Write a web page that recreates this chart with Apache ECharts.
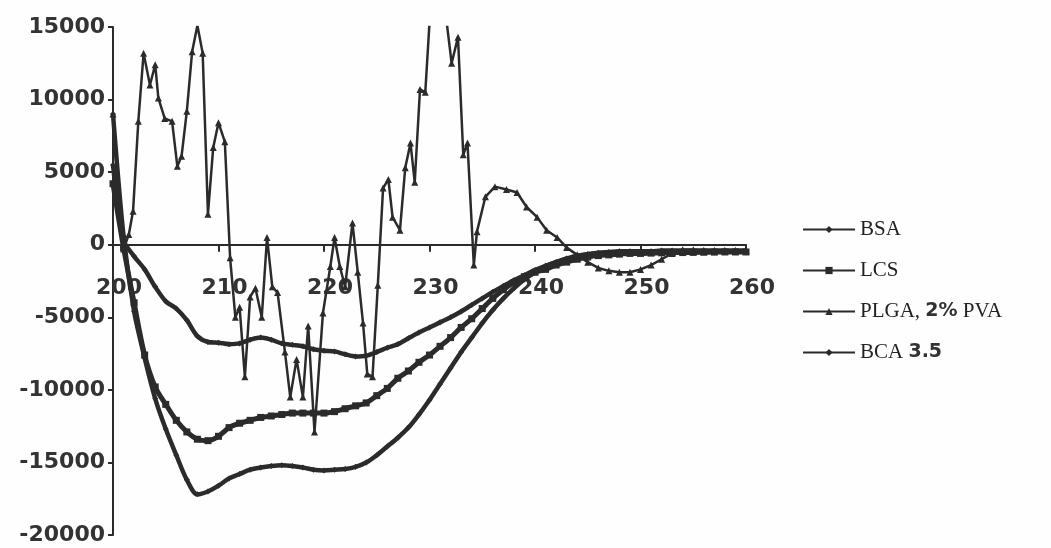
<!DOCTYPE html>
<html>
<head>
<meta charset="utf-8">
<style>
  html, body { margin: 0; padding: 0; background: #fefefe; }
  #chart { width: 1051px; height: 548px; }
</style>
<script src="https://cdn.jsdelivr.net/npm/echarts@6/dist/echarts.min.js"></script>
</head>
<body>
<div id="chart"></div>
<script>
// CD spectra: ellipticity vs. wavelength (nm)
const seriesNames = ['BSA', 'LCS', 'PLGA, 2% PVA', 'BCA 3.5'];

// Common 1 nm wavelength grid for the three smooth spectra
const wavelengths = [
  200, 201, 202, 203, 204, 205, 206, 207, 208, 209,
  210, 211, 212, 213, 214, 215, 216, 217, 218, 219,
  220, 221, 222, 223, 224, 225, 226, 227, 228, 229,
  230, 231, 232, 233, 234, 235, 236, 237, 238, 239,
  240, 241, 242, 243, 244, 245, 246, 247, 248, 249,
  250, 251, 252, 253, 254, 255, 256, 257, 258, 259, 260
];

const bsaValues = [
  9000, 600, -4600, -7800, -10600, -12700, -14500, -16200, -17200, -17000,
  -16600, -16100, -15800, -15500, -15350, -15250, -15200, -15250, -15350, -15500,
  -15550, -15500, -15450, -15300, -15000, -14500, -13900, -13300, -12600, -11700,
  -10700, -9600, -8500, -7400, -6400, -5400, -4500, -3700, -3000, -2400,
  -1900, -1500, -1200, -950, -750, -650, -600, -580, -560, -550,
  -540, -530, -520, -510, -500, -500, -490, -480, -480, -470, -460
];

const lcsValues = [
  4200, -200, -4000, -7600, -9800, -11000, -12100, -12900, -13400, -13500,
  -13200, -12600, -12300, -12100, -11900, -11800, -11700, -11600, -11600, -11600,
  -11600, -11500, -11300, -11100, -10900, -10400, -9900, -9200, -8700, -8100,
  -7600, -7000, -6400, -5700, -5100, -4400, -3700, -3100, -2600, -2200,
  -1900, -1700, -1400, -1200, -1000, -850, -750, -700, -650, -600,
  -600, -580, -560, -550, -540, -530, -520, -510, -500, -500, -500
];

const bcaValues = [
  5500, 300, -800, -1700, -2900, -3900, -4400, -5200, -6300, -6700,
  -6750, -6850, -6800, -6550, -6400, -6550, -6800, -6900, -7000, -7200,
  -7300, -7350, -7550, -7700, -7650, -7400, -7100, -6850, -6450, -6050,
  -5700, -5350, -5000, -4600, -4150, -3700, -3250, -2850, -2450, -2100,
  -1750, -1450, -1200, -1000, -800, -650, -550, -500, -450, -450,
  -450, -450, -400, -400, -400, -400, -400, -400, -400, -400, -400
];

// PLGA, 2% PVA sampled on its own (uneven) wavelength grid
const plgaWavelengths = [
  200, 200.5, 201, 201.5, 201.9, 202.4, 202.9, 203.5, 204.0, 204.3,
  204.9, 205.6, 206.1, 206.5, 207.0, 207.5, 208.0, 208.5, 209.0, 209.5,
  210.0, 210.6, 211.1, 211.6, 212.0, 212.5, 213.0, 213.5, 214.1, 214.6,
  215.1, 215.6, 216.3, 216.8, 217.4, 218.0, 218.5, 219.1, 219.9, 220.6,
  221.0, 221.5, 222.0, 222.7, 223.2, 223.7, 224.1, 224.6, 225.1, 225.6,
  226.1, 226.5, 227.2, 227.7, 228.2, 228.6, 229.1, 229.6, 230.1, 230.6,
  231.1, 231.6, 232.1, 232.7, 233.2, 233.6, 234.2, 234.5, 235.3, 236.2,
  237.3, 238.3, 239.2, 240.2, 241.1, 242.1, 243.0, 244.0, 245, 246,
  247, 248, 249, 250, 251, 252, 253, 254, 255, 256,
  257, 258, 259, 260
];
const plgaValues = [
  9000, 3500, -300, 700, 2300, 8500, 13200, 11000, 12400, 10100,
  8700, 8500, 5400, 6100, 9200, 13300, 15100, 13200, 2100, 6700,
  8400, 7100, -900, -5000, -4300, -9100, -3600, -3000, -5000, 500,
  -2900, -3300, -7400, -10500, -7900, -10500, -5600, -12900, -4700, -1500,
  500, -1500, -2900, 1500, -1900, -5400, -8900, -9100, -2800, 3900,
  4500, 1900, 1000, 5300, 7000, 4300, 10700, 10500, 16500, 19000,
  19500, 15500, 12500, 14300, 6200, 7000, -1400, 900, 3300, 4000,
  3800, 3600, 2600, 1900, 1000, 500, -200, -700, -1200, -1600,
  -1800, -1900, -1900, -1700, -1400, -1000, -600, -350, -350, -400,
  -400, -400, -400, -400
];

// axis scales
const xMin = 200, xMax = 260, xStep = 10;
const yMin = -20000, yMax = 15000, yStep = 5000;

const pair = (xs, ys) => xs.map((x, i) => [x, ys[i]]);

const ink = '#2b2b2b';
const axisFont = {
  fontFamily: 'DejaVu Sans',
  fontWeight: 'bold',
  fontSize: 22,
  color: '#333'
};

// plot box
const gridTop = 27, gridBottom = 13, chartH = 548;
const plotH = chartH - gridTop - gridBottom;
// shift the wavelength axis up so it runs along y = 0
const zeroOffset = -plotH * (0 - yMin) / (yMax - yMin);

const chart = echarts.init(document.getElementById('chart'), null, { renderer: 'canvas' });

chart.setOption({
  backgroundColor: '#fefefe',
  animation: false,
  grid: {
    left: 113, right: 305, top: gridTop, bottom: gridBottom,
    containLabel: false, outerBoundsMode: 'none'
  },
  xAxis: {
    type: 'value',
    position: 'bottom',
    offset: zeroOffset,
    min: xMin, max: xMax, interval: xStep,
    axisLine: { onZero: false, lineStyle: { color: ink, width: 2 } },
    axisTick: { show: true, inside: false, length: 7, lineStyle: { color: ink, width: 2 } },
    axisLabel: Object.assign({ margin: 33, padding: [0, 0, 0, 12] }, axisFont),
    splitLine: { show: false }
  },
  yAxis: {
    type: 'value',
    min: yMin, max: yMax, interval: yStep,
    axisLine: { show: true, onZero: false, lineStyle: { color: ink, width: 2 } },
    axisTick: { show: true, length: 5, lineStyle: { color: ink, width: 2 } },
    axisLabel: Object.assign({ margin: 8, formatter: v => String(v) }, axisFont),
    splitLine: { show: false }
  },
  legend: {
    orient: 'vertical',
    left: 797,
    top: 214,
    itemWidth: 52,
    itemHeight: 9,
    itemGap: 20,
    data: seriesNames,
    formatter: function (name) {
      if (name === 'PLGA, 2% PVA') return '{s|PLGA, }{b|2%}{s| PVA}';
      if (name === 'BCA 3.5') return '{s|BCA }{b|3.5}';
      return '{s|' + name + '}';
    },
    textStyle: {
      color: '#222',
      rich: {
        s: { fontFamily: 'Liberation Serif', fontSize: 21, color: '#222' },
        b: { fontFamily: 'DejaVu Sans', fontWeight: 'bold', fontSize: 19, color: '#333' }
      }
    }
  },
  series: [
    {
      name: 'BSA', type: 'line',
      data: pair(wavelengths, bsaValues),
      smooth: 0.3, symbol: 'diamond', symbolSize: 6, showSymbol: true,
      lineStyle: { color: ink, width: 4.5 },
      itemStyle: { color: ink },
      z: 3
    },
    {
      name: 'LCS', type: 'line',
      data: pair(wavelengths, lcsValues),
      smooth: 0.3, symbol: 'rect', symbolSize: 7, showSymbol: true,
      lineStyle: { color: ink, width: 5 },
      itemStyle: { color: ink },
      z: 3
    },
    {
      name: 'PLGA, 2% PVA', type: 'line',
      data: pair(plgaWavelengths, plgaValues),
      symbol: 'triangle', symbolSize: 7, showSymbol: true,
      lineStyle: { color: ink, width: 2.5 },
      itemStyle: { color: ink },
      clip: true,
      z: 4
    },
    {
      name: 'BCA 3.5', type: 'line',
      data: pair(wavelengths, bcaValues),
      smooth: 0.3, symbol: 'diamond', symbolSize: 6, showSymbol: true,
      lineStyle: { color: ink, width: 4.5 },
      itemStyle: { color: ink },
      z: 3
    }
  ]
});
</script>
</body>
</html>
